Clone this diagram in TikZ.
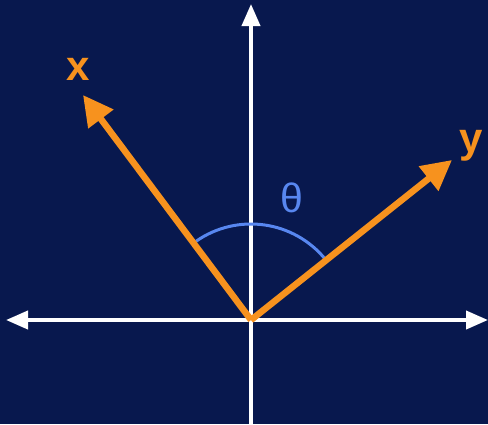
\documentclass[tikz,border=0pt]{standalone}
\usepackage{fontspec}
\setmainfont{Liberation Sans}
\usetikzlibrary{arrows.meta}
\definecolor{navy}{RGB}{8,24,78}
\definecolor{orng}{RGB}{247,146,30}
\definecolor{arcblue}{RGB}{88,135,240}
\tikzset{
  axis/.style={white, line width=4pt, -{Triangle[length=22pt,width=18pt]}},
  vec/.style={orng, line width=6.5pt, -{Triangle[length=30pt,width=30pt]}},
  vlabel/.style={text=orng, font=\fontsize{42}{42}\selectfont\bfseries, inner sep=0pt},
}
\begin{document}
\begin{tikzpicture}[x=1pt,y=-1pt]
\fill[navy] (0,0) rectangle (488,424);
\useasboundingbox (0,0) rectangle (488,424);
\coordinate (O) at (251,320);
\coordinate (L) at (6,320);
\coordinate (R) at (488,320);
\coordinate (T) at (251,4);
\coordinate (B) at (251,424);
\coordinate (X) at (83,95);
\coordinate (Y) at (452,160);
\draw[axis] (O) -- (L);
\draw[axis] (O) -- (R);
\draw[axis] (B) -- (T);
\draw[arcblue, line width=3pt] (O) ++(-125:96) arc[start angle=-125, end angle=-39, radius=96];
\draw[vec] (O) -- (X);
\draw[vec] (O) -- (Y);
\node[vlabel] (xl) at (78,69) {x};
\node[vlabel] (yl) at (471,146) {y};
\node[text=arcblue, font=\fontsize{41}{41}\selectfont, inner sep=0pt] (th) at (292,198) {θ};
\end{tikzpicture}
\end{document}
